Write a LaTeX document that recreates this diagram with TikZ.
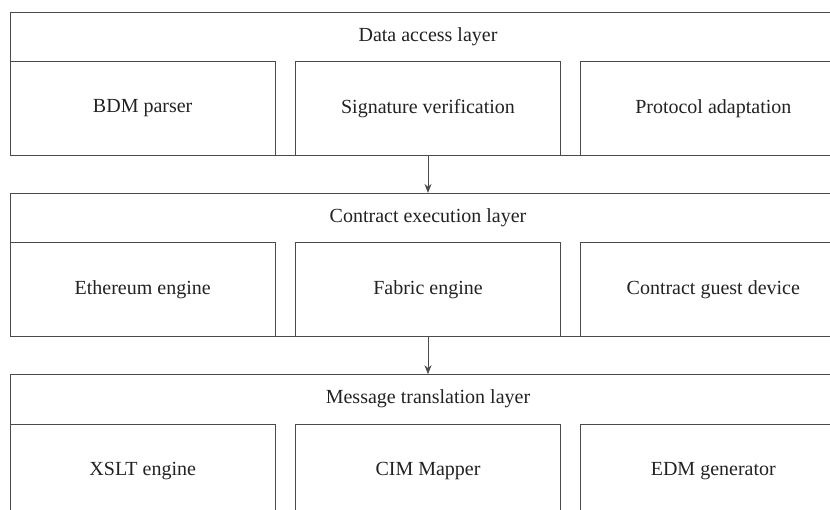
\documentclass[tikz,border=0pt]{standalone}
\usepackage{fontspec}
\setmainfont{Liberation Serif}
\usepackage{tikz}
\usetikzlibrary{arrows.meta, positioning, calc}
\usepackage{xcolor}
\definecolor{linegray}{HTML}{4A4A4A}
\definecolor{textgray}{HTML}{222222}

\begin{document}
\begin{tikzpicture}[x=1pt, y=-1pt,
    layer/.style={draw=linegray, line width=0.8pt, minimum width=834.5pt, minimum height=143.5pt, inner sep=0pt},
    part/.style={draw=linegray, line width=0.8pt, minimum width=265.5pt, minimum height=94pt, inner sep=0pt,
                 text=textgray, font=\fontsize{20}{24}\selectfont},
    title/.style={text=textgray, font=\fontsize{20}{24}\selectfont},
    flow/.style={draw=linegray, line width=0.8pt, -{Stealth[length=9pt, width=7pt]}},
    node distance=19pt]
    \clip (0,0) rectangle (830,510);
    % Data access layer
    \node[layer] (dal) at (428,83.75) {};
    \node[part, anchor=south] (sv) at (dal.south) {Signature verification};
    \node[part, left=of sv] (bdm) {BDM parser};
    \node[part, right=of sv] (pa) {Protocol adaptation};
    \node[title] (dalt) at ($(dal.north)!0.5!(sv.north)$) {Data access layer};
    % Contract execution layer
    \node[layer, below=37pt of dal] (cel) {};
    \node[part, anchor=south] (fe) at (cel.south) {Fabric engine};
    \node[part, left=of fe] (ee) {Ethereum engine};
    \node[part, right=of fe] (cgd) {Contract guest device};
    \node[title] (celt) at ($(cel.north)!0.5!(fe.north)$) {Contract execution layer};
    % Message translation layer
    \node[layer, below=37pt of cel] (mtl) {};
    \node[part, anchor=south] (cim) at (mtl.south) {CIM Mapper};
    \node[part, left=of cim] (xslt) {XSLT engine};
    \node[part, right=of cim] (edm) {EDM generator};
    \node[title] (mtlt) at ($(mtl.north)!0.5!(cim.north)$) {Message translation layer};
    % Flow between layers
    \draw[flow] (sv.south) -- (cel.north);
    \draw[flow] (fe.south) -- (mtl.north);
\end{tikzpicture}
\end{document}
